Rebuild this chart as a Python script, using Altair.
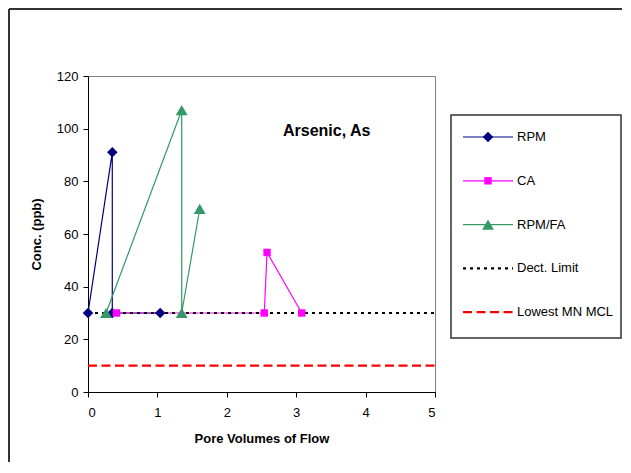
import altair as alt
import pandas as pd

# ---- data ----
series_names = ["RPM", "CA", "RPM/FA"]
rpm_x = [0.0, 0.35, 0.35, 1.04]
rpm_y = [30, 91, 30, 30]
ca_x = [0.41, 2.54, 2.58, 3.08]
ca_y = [30, 30, 53, 30]
fa_x = [0.26, 1.35, 1.35, 1.61]
fa_y = [30, 107, 30, 69.5]
detect_limit = 30
lowest_mcl = 10
x_ticks = [0, 1, 2, 3, 4, 5]
y_ticks = [0, 20, 40, 60, 80, 100, 120]
legend_labels = ["RPM", "CA", "RPM/FA", "Dect. Limit", "Lowest MN MCL"]
chart_label = "Arsenic, As"

colors = ["#000080", "#FF00FF", "#339966"]
shapes = ["diamond", "square", "triangle-up"]
sizes = [110, 55, 140]
FONT = "Liberation Sans"

rows = []
for name, xs, ys in zip(series_names, [rpm_x, ca_x, fa_x], [rpm_y, ca_y, fa_y]):
    for i, (xv, yv) in enumerate(zip(xs, ys)):
        rows.append({"series": name, "x": xv, "y": yv, "idx": i})
df = pd.DataFrame(rows)

xscale = alt.Scale(domain=[x_ticks[0], x_ticks[-1]], nice=False)
yscale = alt.Scale(domain=[y_ticks[0], y_ticks[-1]], nice=False)

X = alt.X("x:Q", scale=xscale,
          axis=alt.Axis(values=x_ticks, title="Pore Volumes of Flow", grid=False,
                        tickSize=5, labelPadding=9, titlePadding=13,
                        labelFontSize=13, titleFontSize=13, titleFontWeight="bold",
                        labelFont=FONT, titleFont=FONT, labelColor="black", titleColor="black",
                        domainColor="black", tickColor="black", format="d"))
Y = alt.Y("y:Q", scale=yscale,
          axis=alt.Axis(values=y_ticks, title="Conc. (ppb)", grid=False,
                        tickSize=5, labelPadding=5, titlePadding=13,
                        labelFontSize=13, titleFontSize=13, titleFontWeight="bold",
                        labelFont=FONT, titleFont=FONT, labelColor="black", titleColor="black",
                        domainColor="black", tickColor="black", format="d"))

color_scale = alt.Scale(domain=series_names, range=colors)

lines = alt.Chart(df).mark_line(strokeWidth=1.2).encode(
    x=X, y=Y,
    color=alt.Color("series:N", scale=color_scale, legend=None),
    detail="series:N",
    order="idx:Q",
)

point_layers = []
for name, col, shp, sz in zip(series_names, colors, shapes, sizes):
    point_layers.append(
        alt.Chart(df).transform_filter(alt.datum.series == name)
        .mark_point(filled=True, opacity=1, shape=shp, size=sz, color=col)
        .encode(x="x:Q", y="y:Q")
    )

limits = pd.DataFrame({"x": [x_ticks[0]], "x2": [x_ticks[-1]],
                       "dl": [detect_limit], "mcl": [lowest_mcl]})
dl_rule = alt.Chart(limits).mark_rule(color="black", strokeWidth=2.2, strokeDash=[3, 4]).encode(
    x="x:Q", x2="x2:Q", y="dl:Q")
mcl_rule = alt.Chart(limits).mark_rule(color="#FF0000", strokeWidth=2.2, strokeDash=[9, 4.5]).encode(
    x="x:Q", x2="x2:Q", y="mcl:Q")

label_df = pd.DataFrame({"label": [chart_label], "x": [3.44], "y": [99]})
label = alt.Chart(label_df).mark_text(font=FONT, fontSize=16, fontWeight="bold",
                                      align="center", baseline="middle", color="black").encode(
    x="x:Q", y="y:Q", text="label:N")

# ---- outer frame (chart area border) ----
one = pd.DataFrame({"a": [0]})
frame_top = alt.Chart(one).mark_rule(color="#333333", strokeWidth=2).encode(
    x=alt.value(-79), x2=alt.value(534), y=alt.value(-67))
frame_left = alt.Chart(one).mark_rule(color="#333333", strokeWidth=2).encode(
    x=alt.value(-79), y=alt.value(-67), y2=alt.value(386))

# ---- manual legend ----
leg_y0, leg_dy = 61, 43.8
leg = pd.DataFrame({
    "label": legend_labels,
    "ypix": [leg_y0 + leg_dy * i for i in range(len(legend_labels))],
    "col": colors + ["black", "#FF0000"],
    "shp": shapes + ["", ""],
    "sz": sizes + [0, 0],
})
leg_series = leg.iloc[:3]
leg_dl = leg.iloc[[3]]
leg_mcl = leg.iloc[[4]]

legend_box = alt.Chart(one).mark_rect(fill="white", stroke="#333333", strokeWidth=1.5).encode(
    x=alt.value(363), x2=alt.value(533), y=alt.value(39), y2=alt.value(262))
leg_lines = alt.Chart(leg_series).mark_rule(strokeWidth=1.2).encode(
    x=alt.value(375), x2=alt.value(425),
    y=alt.Y("ypix:Q", scale=None),
    color=alt.Color("col:N", scale=None))
leg_pts = alt.Chart(leg_series).mark_point(filled=True, opacity=1).encode(
    x=alt.value(400),
    y=alt.Y("ypix:Q", scale=None),
    color=alt.Color("col:N", scale=None),
    shape=alt.Shape("shp:N", scale=None),
    size=alt.Size("sz:Q", scale=None))
leg_dl_line = alt.Chart(leg_dl).mark_rule(strokeWidth=2.2, strokeDash=[3, 4], color="black").encode(
    x=alt.value(375), x2=alt.value(425), y=alt.Y("ypix:Q", scale=None))
leg_mcl_line = alt.Chart(leg_mcl).mark_rule(strokeWidth=2.2, strokeDash=[9, 4.5], color="#FF0000").encode(
    x=alt.value(375), x2=alt.value(425), y=alt.Y("ypix:Q", scale=None))
leg_text = alt.Chart(leg).mark_text(font=FONT, fontSize=13, align="left", baseline="middle",
                                    color="black").encode(
    x=alt.value(429), y=alt.Y("ypix:Q", scale=None), text="label:N")

chart = alt.layer(
    frame_top, frame_left,
    mcl_rule, lines, dl_rule, *point_layers, label,
    legend_box, leg_lines, leg_dl_line, leg_mcl_line, leg_pts, leg_text,
).properties(
    width=347, height=316, padding=0, background="white"
).configure_view(stroke="#808080", strokeWidth=1)

chart.save("out.html", embed_options={"renderer": "svg", "actions": False})
